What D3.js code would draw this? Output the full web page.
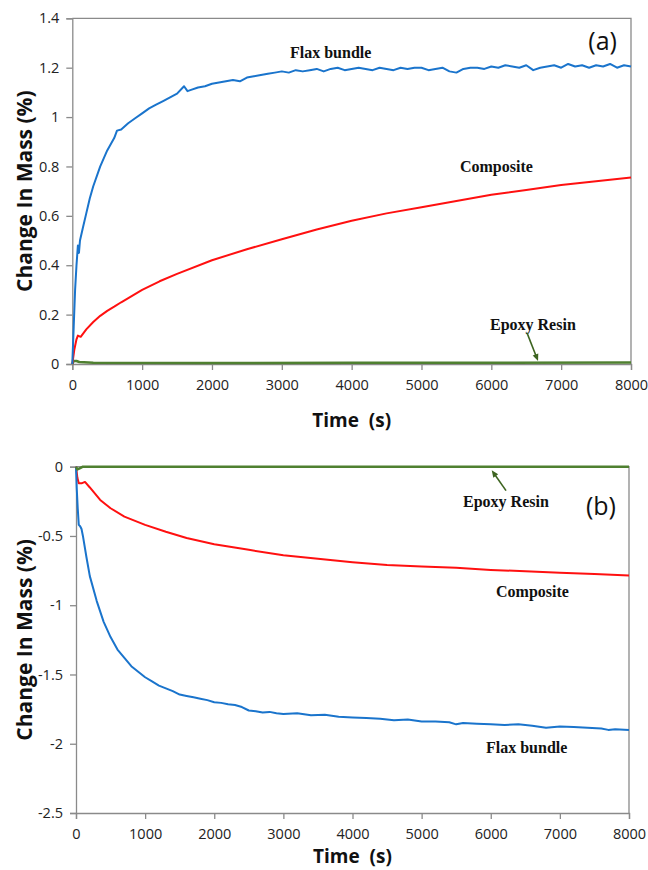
<!DOCTYPE html>
<html>
<head>
<meta charset="utf-8">
<script src="https://cdn.jsdelivr.net/npm/d3@7"></script>
<style>
  body { margin: 0; background: #fff; }
  svg { display: block; }
</style>
</head>
<body>
<div id="chart"></div>
<script>
// x ticks shared by both panels
var timeTicks = [0, 1000, 2000, 3000, 4000, 5000, 6000, 7000, 8000];
var massTicksA = [0, 0.2, 0.4, 0.6, 0.8, 1, 1.2, 1.4];
var massTicksB = [-2.5, -2, -1.5, -1, -0.5, 0];

// (a) absorption
var flaxTimeA = [0, 20, 40, 60, 80, 95, 110, 150, 200, 250, 300, 400, 500, 600, 640, 700, 800, 900, 1000,
  1100, 1200, 1300, 1400, 1500, 1600, 1650, 1700, 1800, 1900, 2000, 2100, 2200, 2300, 2400, 2500,
  2600, 2700, 2800, 2900, 3000, 3100, 3200, 3300, 3400, 3500, 3600, 3700, 3800, 3900, 4000,
  4100, 4200, 4300, 4400, 4500, 4600, 4700, 4800, 4900, 5000, 5100, 5200, 5300, 5400, 5500,
  5600, 5700, 5800, 5900, 6000, 6100, 6200, 6300, 6400, 6500, 6600, 6700, 6800, 6900, 7000,
  7100, 7200, 7300, 7400, 7500, 7600, 7700, 7800, 7900, 8000];
var flaxMassA = [0, 0.15, 0.3, 0.4, 0.48, 0.45, 0.5, 0.55, 0.61, 0.67, 0.72, 0.8, 0.865, 0.915, 0.945, 0.95, 0.975, 0.995, 1.015,
  1.035, 1.05, 1.065, 1.08, 1.095, 1.125, 1.105, 1.11, 1.12, 1.125, 1.135, 1.14, 1.145, 1.15, 1.145, 1.16,
  1.165, 1.17, 1.175, 1.18, 1.185, 1.18, 1.19, 1.185, 1.19, 1.195, 1.185, 1.195, 1.2, 1.19, 1.195,
  1.2, 1.195, 1.19, 1.2, 1.195, 1.19, 1.2, 1.195, 1.2, 1.2, 1.19, 1.195, 1.2, 1.185, 1.18,
  1.195, 1.2, 1.2, 1.195, 1.205, 1.2, 1.21, 1.205, 1.2, 1.21, 1.19, 1.2, 1.205, 1.21, 1.2,
  1.215, 1.205, 1.21, 1.2, 1.21, 1.205, 1.215, 1.2, 1.21, 1.205];

var compTimeA = [0, 30, 60, 80, 120, 200, 300, 400, 500, 600, 700, 850, 1000, 1250, 1500, 2000, 2500, 3000, 3500, 4000, 4500,
  5000, 5500, 6000, 6500, 7000, 7500, 8000];
var compMassA = [0, 0.06, 0.1, 0.115, 0.11, 0.14, 0.17, 0.195, 0.215, 0.232, 0.25, 0.275, 0.3, 0.335, 0.365, 0.42, 0.465, 0.505, 0.545, 0.58, 0.61,
  0.635, 0.66, 0.685, 0.705, 0.725, 0.74, 0.755];

var epoxyTimeA = [0, 20, 60, 100, 300, 2000, 4000, 6000, 8000];
var epoxyMassA = [0, 0.012, 0.012, 0.008, 0.005, 0.004, 0.005, 0.005, 0.006];

// (b) desorption
var flaxTimeB = [0, 10, 25, 40, 60, 80, 100, 150, 200, 300, 400, 500, 600, 700, 800, 900, 1000,
  1100, 1200, 1300, 1400, 1500, 1600, 1700, 1800, 1900, 2000, 2100, 2200, 2300, 2400, 2500,
  2600, 2700, 2800, 2900, 3000, 3200, 3400, 3600, 3800, 4000, 4200, 4400, 4600, 4800, 5000,
  5200, 5400, 5500, 5600, 5800, 6000, 6200, 6400, 6600, 6800, 7000, 7200, 7400, 7600, 7700, 7800, 8000];
var flaxMassB = [0, -0.15, -0.3, -0.42, -0.43, -0.45, -0.5, -0.65, -0.79, -0.97, -1.12, -1.23, -1.32, -1.38, -1.44, -1.48, -1.52,
  -1.55, -1.58, -1.6, -1.62, -1.645, -1.655, -1.665, -1.675, -1.685, -1.7, -1.705, -1.715, -1.72, -1.735, -1.76,
  -1.765, -1.775, -1.77, -1.78, -1.785, -1.78, -1.795, -1.79, -1.805, -1.81, -1.815, -1.82, -1.83, -1.825, -1.84,
  -1.84, -1.845, -1.86, -1.85, -1.855, -1.86, -1.865, -1.86, -1.87, -1.885, -1.875, -1.88, -1.885, -1.89, -1.9, -1.895, -1.9];

var compTimeB = [0, 20, 40, 80, 130, 200, 350, 500, 700, 1000, 1300, 1600, 2000, 2500, 3000, 3500, 4000,
  4500, 5000, 5500, 6000, 6500, 7000, 7500, 8000];
var compMassB = [0, -0.08, -0.12, -0.12, -0.11, -0.15, -0.24, -0.3, -0.36, -0.42, -0.47, -0.515, -0.56, -0.6, -0.64, -0.665, -0.69,
  -0.71, -0.72, -0.73, -0.745, -0.755, -0.765, -0.775, -0.785];

var epoxyTimeB = [0, 20, 60, 100, 8000];
var epoxyMassB = [0, -0.02, -0.01, 0, 0];

var svg = d3.select("#chart").append("svg")
  .attr("width", 648)
  .attr("height", 870);

var axisColor = "#8a8a8a";
var tickFont = "'Open Sans', sans-serif";
var noteFont = "'Liberation Serif', 'Times New Roman', serif";

function zip(ts, vs) {
  return ts.map(function (t, i) { return [t, vs[i]]; });
}

function drawPanel(p) {
  var x = d3.scaleLinear().domain([0, 8000]).range([p.left, p.right]);
  var y = d3.scaleLinear().domain(p.yDomain).range([p.bottom, p.top]);
  var g = svg.append("g");

  // frame (top + right)
  g.append("path")
    .attr("d", "M" + p.left + "," + p.top + "H" + p.right + "V" + p.bottom)
    .attr("fill", "none")
    .attr("stroke", axisColor)
    .attr("stroke-width", 1.3);

  var xAxis = g.append("g")
    .attr("transform", "translate(0," + p.bottom + ")")
    .call(d3.axisBottom(x).tickValues(timeTicks).tickSize(6).tickPadding(10).tickFormat(d3.format("d")));
  var yAxis = g.append("g")
    .attr("transform", "translate(" + p.left + ",0)")
    .call(d3.axisLeft(y).tickValues(p.yTicks).tickSize(6).tickPadding(7).tickFormat(function (d) { return String(d); }));

  [xAxis, yAxis].forEach(function (a) {
    a.select(".domain").attr("stroke", axisColor).attr("stroke-width", 1.3);
    a.selectAll(".tick line").attr("stroke", axisColor).attr("stroke-width", 1.3);
    a.selectAll(".tick text")
      .attr("fill", "#222")
      .style("font-family", tickFont)
      .style("font-size", "14.5px");
  });

  var line = d3.line()
    .x(function (d) { return x(d[0]); })
    .y(function (d) { return y(d[1]); });

  p.series.forEach(function (s) {
    g.append("path")
      .datum(s.data)
      .attr("fill", "none")
      .attr("stroke", s.color)
      .attr("stroke-width", s.width)
      .attr("stroke-linejoin", "round")
      .attr("d", line);
  });

  // axis titles
  g.append("text")
    .attr("x", (p.left + p.right) / 2)
    .attr("y", p.xTitleY)
    .attr("text-anchor", "middle")
    .attr("fill", "#111")
    .style("font-family", tickFont)
    .style("font-weight", "bold")
    .style("font-size", "19px")
    .style("white-space", "pre")
    .text("Time  (s)");

  g.append("text")
    .attr("transform", "translate(32," + (p.top + p.bottom) / 2 + ") rotate(-90)")
    .attr("text-anchor", "middle")
    .attr("fill", "#111")
    .style("font-family", tickFont)
    .style("font-weight", "bold")
    .style("font-size", "21px")
    .text("Change In Mass (%)");

  // series notes
  p.notes.forEach(function (n) {
    g.append("text")
      .attr("x", x(n.t))
      .attr("y", y(n.v))
      .attr("fill", "#111")
      .style("font-family", noteFont)
      .style("font-weight", "bold")
      .style("font-size", "16px")
      .text(n.text);
  });

  // arrow to the epoxy line
  var a = p.arrow;
  var x1 = x(a.t1), y1 = y(a.v1), x2 = x(a.t2), y2 = y(a.v2);
  var ang = Math.atan2(y2 - y1, x2 - x1);
  g.append("line")
    .attr("x1", x1).attr("y1", y1)
    .attr("x2", x2 - 4 * Math.cos(ang)).attr("y2", y2 - 4 * Math.sin(ang))
    .attr("stroke", "#3d6420")
    .attr("stroke-width", 1.6);
  var hl = 7, hw = 3;
  g.append("path")
    .attr("d", "M" + x2 + "," + y2 +
      "L" + (x2 - hl * Math.cos(ang) + hw * Math.sin(ang)) + "," + (y2 - hl * Math.sin(ang) - hw * Math.cos(ang)) +
      "L" + (x2 - hl * Math.cos(ang) - hw * Math.sin(ang)) + "," + (y2 - hl * Math.sin(ang) + hw * Math.cos(ang)) + "Z")
    .attr("fill", "#3d6420");

  // panel letter
  g.append("text")
    .attr("x", x(p.letter.t))
    .attr("y", y(p.letter.v))
    .attr("text-anchor", "end")
    .attr("fill", "#111")
    .style("font-family", tickFont)
    .style("font-size", "25px")
    .text(p.letter.text);
}

var blue = "#1a74cc", red = "#ff1010", green = "#4f8030";

drawPanel({
  left: 72.3, right: 631, top: 18.3, bottom: 364,
  yDomain: [0, 1.4], yTicks: massTicksA, xTitleY: 427,
  series: [
    { data: zip(epoxyTimeA, epoxyMassA), color: green, width: 2.5 },
    { data: zip(compTimeA, compMassA), color: red, width: 2 },
    { data: zip(flaxTimeA, flaxMassA), color: blue, width: 2 }
  ],
  notes: [
    { text: "Flax bundle", t: 3117, v: 1.239 },
    { text: "Composite", t: 5551, v: 0.777 },
    { text: "Epoxy Resin", t: 5981, v: 0.138 }
  ],
  arrow: { t1: 6511, v1: 0.126, t2: 6669, v2: 0.012 },
  letter: { text: "(a)", t: 7799, v: 1.271 }
});

drawPanel({
  left: 76, right: 629, top: 466.7, bottom: 813,
  yDomain: [-2.5, 0], yTicks: massTicksB, xTitleY: 863,
  series: [
    { data: zip(compTimeB, compMassB), color: red, width: 2 },
    { data: zip(flaxTimeB, flaxMassB), color: blue, width: 2 },
    { data: zip(epoxyTimeB, epoxyMassB), color: green, width: 2.5 }
  ],
  notes: [
    { text: "Epoxy Resin", t: 5599, v: -0.291 },
    { text: "Composite", t: 6076, v: -0.941 },
    { text: "Flax bundle", t: 5931, v: -2.068 }
  ],
  arrow: { t1: 6221, v1: -0.173, t2: 6014, v2: -0.026 },
  letter: { text: "(b)", t: 7812, v: -0.349 }
});
</script>
</body>
</html>
